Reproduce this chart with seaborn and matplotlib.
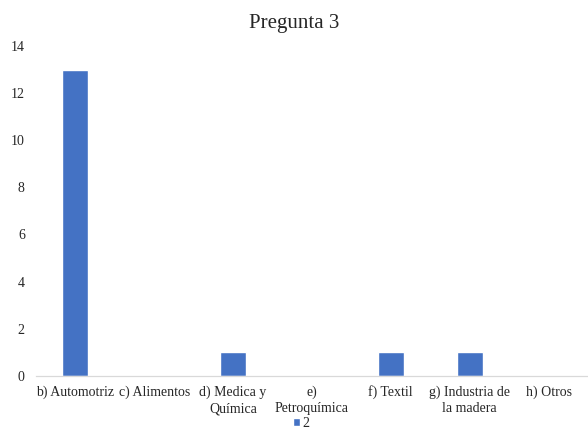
import pandas as pd
import matplotlib
matplotlib.use('Agg')
import matplotlib.pyplot as plt
import seaborn as sns

categories = ['b) Automotriz', 'c) Alimentos', 'd) Medica y\nQuímica', 'e)\nPetroquímica',
              'f) Textil', 'g) Industria de\nla madera', 'h) Otros']
values = [13, 0, 1, 0, 1, 1, 0]
series_name = '2'

df = pd.DataFrame({'Categoria': categories, 'Valor': values, 'Serie': series_name})

sns.set_theme(style='white')
plt.rcParams['font.family'] = ['Liberation Serif', 'DejaVu Serif']

fig = plt.figure(figsize=(5.88, 4.30), dpi=100)
ax = fig.add_axes([0.061, 0.126, 0.939, 0.767])

sns.barplot(data=df, x='Categoria', y='Valor', hue='Serie', palette=['#4472C4'],
            saturation=1, width=0.33, ax=ax, legend=True)

ax.set_ylim(0, 14)
ax.set_yticks(range(0, 15, 2))
ax.set_xlim(-0.5, len(categories) - 0.5)
ax.set_xlabel('')
ax.set_ylabel('')
ax.tick_params(axis='both', length=0, labelsize=10, colors='#262626')
ax.tick_params(axis='x', pad=7)
ax.tick_params(axis='y', pad=8)
for lbl in ax.get_xticklabels():
    lbl.set_linespacing(1.3)
for s in ['top', 'right', 'left']:
    ax.spines[s].set_visible(False)
ax.spines['bottom'].set_color('#D9D9D9')
ax.spines['bottom'].set_linewidth(0.9)

fig.suptitle('Pregunta 3', y=0.968, fontsize=15, color='#262626')

ax.legend(loc='lower center', bbox_to_anchor=(0.512, 0.0), bbox_transform=fig.transFigure,
          frameon=False, fontsize=10, handlelength=0.5, handleheight=0.5,
          handletextpad=0.2, borderpad=0.0, borderaxespad=0)

fig.savefig('out.png', dpi=100)
